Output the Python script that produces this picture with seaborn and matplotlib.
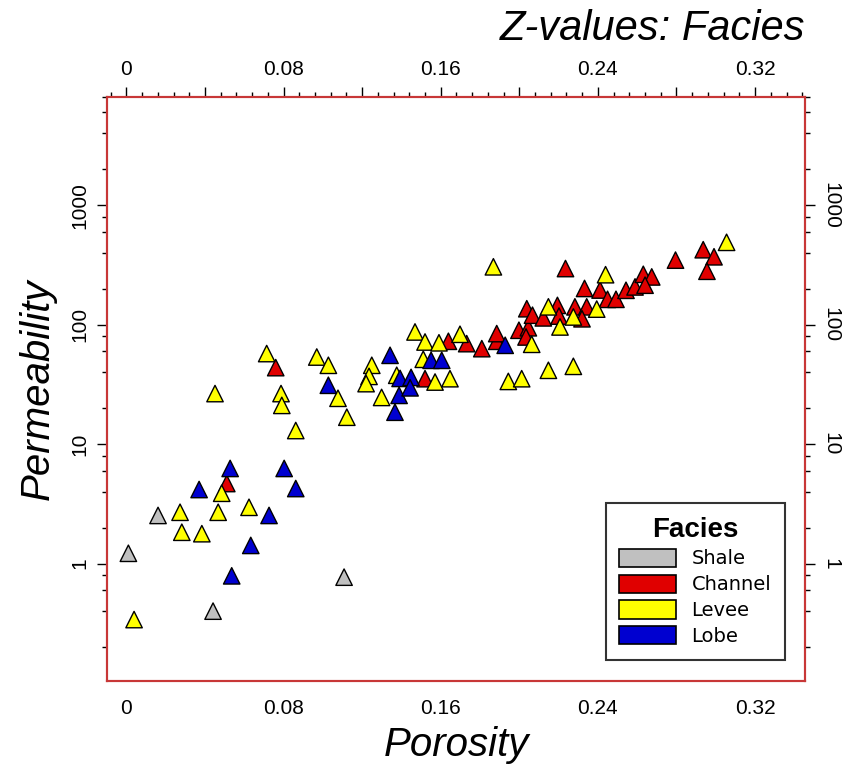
"""Porosity vs permeability cross-plot coloured by facies."""

import matplotlib
matplotlib.use("Agg")
import matplotlib.pyplot as plt
from matplotlib.patches import Patch
from matplotlib.ticker import FixedLocator, NullFormatter
import pandas as pd
import seaborn as sns

facies_names = ["Shale", "Channel", "Levee", "Lobe"]
facies_colors = ["#c0c0c0", "#e00000", "#ffff00", "#0000d0"]

shale_por = [0.0161, 0.0010, 0.1108, 0.0441]
shale_perm = [2.53, 1.22, 0.77, 0.40]

channel_por = [0.0511, 0.0760, 0.1520, 0.1639, 0.1732, 0.1809, 0.1885, 0.1885,
               0.1998, 0.2046, 0.2034, 0.2038, 0.2067, 0.2122, 0.2194, 0.2202,
               0.2283, 0.2343, 0.2319, 0.2235, 0.2332, 0.2411, 0.2449, 0.2492,
               0.2543, 0.2589, 0.2631, 0.2674, 0.2640, 0.2795, 0.2936, 0.2991,
               0.2955]
channel_perm = [4.68, 43.7, 35.3, 72.6, 69.4, 63.0, 72.6, 84.2,
                89.8, 94.2, 78.9, 136, 120, 114, 145, 118,
                141, 141, 112, 295, 201, 195, 163, 163,
                194, 207, 264, 251, 214, 347, 424, 370,
                280]

levee_por = [0.0451, 0.0787, 0.0791, 0.1077, 0.1299, 0.1122, 0.0862, 0.0485,
             0.0273, 0.0467, 0.0624, 0.0282, 0.0384, 0.0039, 0.0714, 0.0969,
             0.1028, 0.1249, 0.1235, 0.1220, 0.1469, 0.1520, 0.1591, 0.1698,
             0.1511, 0.1376, 0.1571, 0.1647, 0.1868, 0.2439, 0.2148, 0.2394,
             0.2275, 0.2207, 0.2063, 0.1944, 0.2012, 0.2148, 0.2275, 0.3055]
levee_perm = [26.5, 26.5, 21.1, 24.2, 24.6, 16.8, 13.0, 3.88,
              2.69, 2.69, 2.96, 1.83, 1.78, 0.34, 57.3, 53.6,
              45.7, 45.7, 36.9, 32.1, 86.9, 71.6, 70.5, 83.1,
              51.3, 37.7, 33.1, 35.3, 305, 262, 141, 135,
              116, 95.7, 68.5, 33.5, 35.3, 41.5, 44.8, 489]

lobe_por = [0.0528, 0.0803, 0.0370, 0.0862, 0.0726, 0.0633, 0.0536, 0.1342,
            0.1028, 0.1367, 0.1388, 0.1393, 0.1449, 0.1444, 0.1551, 0.1605,
            0.1928]
lobe_perm = [6.26, 6.26, 4.17, 4.25, 2.53, 1.42, 0.79, 55.4,
             31.1, 18.5, 25.6, 35.5, 36.2, 29.6, 50.3, 50.3,
             67.2]

x_major = [0, 0.04, 0.08, 0.12, 0.16, 0.20, 0.24, 0.28, 0.32]
x_labels = ["0", "", "0.08", "", "0.16", "", "0.24", "", "0.32"]
y_major = [1, 10, 100, 1000]
y_labels = ["1", "10", "100", "1000"]

df = pd.concat([
    pd.DataFrame({"Porosity": shale_por, "Permeability": shale_perm, "Facies": "Shale"}),
    pd.DataFrame({"Porosity": channel_por, "Permeability": channel_perm, "Facies": "Channel"}),
    pd.DataFrame({"Porosity": levee_por, "Permeability": levee_perm, "Facies": "Levee"}),
    pd.DataFrame({"Porosity": lobe_por, "Permeability": lobe_perm, "Facies": "Lobe"}),
], ignore_index=True)

sns.set_style("white")
plt.rcParams["font.family"] = ["Liberation Sans Narrow", "Liberation Sans", "DejaVu Sans"]
for key in ("text.color", "axes.labelcolor", "xtick.color", "ytick.color"):
    plt.rcParams[key] = "black"

frame_red = "#c83737"
fig = plt.figure(figsize=(8.52, 7.69), dpi=100)
ax = fig.add_axes([0.126, 0.1144, 0.8188, 0.7599])

sns.scatterplot(data=df, x="Porosity", y="Permeability", hue="Facies",
                hue_order=facies_names, palette=facies_colors, marker="^",
                s=140, edgecolor="black", linewidth=1.0, legend=False, ax=ax)

ax.set_yscale("log")
ax.set_xlim(-0.0097, 0.3454)
ax.set_ylim(0.104, 8100)

minor_y = [m * 10.0 ** e for e in range(-1, 4) for m in (2, 4, 6, 8)]
minor_x = [i * 0.008 for i in range(-1, 44)]

ax.xaxis.set_major_locator(FixedLocator(x_major))
ax.set_xticklabels(x_labels)
ax.xaxis.set_minor_locator(FixedLocator(minor_x))
ax.yaxis.set_major_locator(FixedLocator(y_major))
ax.set_yticklabels(y_labels)
ax.yaxis.set_minor_locator(FixedLocator(minor_y))
ax.yaxis.set_minor_formatter(NullFormatter())

ax.tick_params(axis="both", which="major", direction="out", length=7, width=1,
               color="black", labelsize=15, top=True, labeltop=True)
ax.tick_params(axis="both", which="minor", direction="out", length=3.5, width=1,
               color="black", top=True)
ax.tick_params(axis="x", which="major", pad=6)
ax.tick_params(axis="y", which="major", labelrotation=90, pad=6)
for lab in ax.get_yticklabels():
    lab.set_verticalalignment("center")

# right-hand axis with labels turned the other way
ax2 = ax.twinx()
ax2.set_yscale("log")
ax2.set_ylim(ax.get_ylim())
ax2.yaxis.set_major_locator(FixedLocator(y_major))
ax2.set_yticklabels(y_labels)
ax2.yaxis.set_minor_locator(FixedLocator(minor_y))
ax2.yaxis.set_minor_formatter(NullFormatter())
ax2.tick_params(axis="y", which="major", direction="out", length=7, width=1,
                color="black", labelsize=15, labelrotation=-90, pad=5)
ax2.tick_params(axis="y", which="minor", direction="out", length=3.5, width=1,
                color="black")
for lab in ax2.get_yticklabels():
    lab.set_verticalalignment("center")

for a in (ax, ax2):
    for sp in a.spines.values():
        sp.set_color(frame_red)
        sp.set_linewidth(1.5)

ax.set_xlabel("Porosity", fontsize=29, style="italic", family="Liberation Sans", labelpad=6)
ax.set_ylabel("Permeability", fontsize=29, style="italic", family="Liberation Sans", labelpad=10)
fig.text(0.945, 0.962, "Z-values: Facies", ha="right", va="center", fontsize=30,
         style="italic", family="Liberation Sans")

handles = [Patch(facecolor=c, edgecolor="black", linewidth=1.2) for c in facies_colors]
leg = ax2.legend(handles, facies_names, title="Facies", loc="lower right",
                 bbox_to_anchor=(0.985, 0.02), frameon=True, fancybox=False,
                 edgecolor="black", handlelength=2.9, handleheight=1.05,
                 labelspacing=0.32, handletextpad=0.8, borderpad=0.7,
                 prop={"family": "DejaVu Sans", "size": 14})
leg.get_frame().set_linewidth(1.5)
leg.get_title().set_fontsize(20)
leg.get_title().set_fontweight("bold")
leg.get_title().set_family("Liberation Sans")

fig.savefig("out.png", dpi=100)
